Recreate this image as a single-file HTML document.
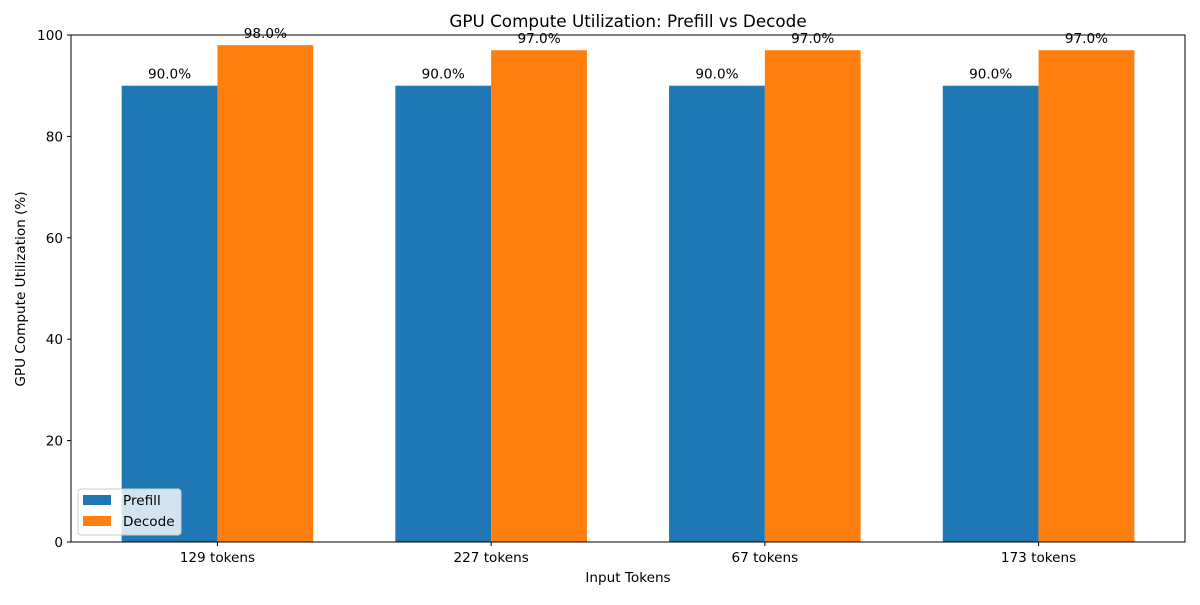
<!DOCTYPE html>
<html><head><meta charset="utf-8"><style>
body{margin:0;background:#fff;font-family:"Liberation Sans","DejaVu Sans",sans-serif;}
svg text{font-family:"DejaVu Sans","Liberation Sans",sans-serif;}
</style></head><body>
<svg id="chart" width="1200" height="600" xmlns="http://www.w3.org/2000/svg"></svg>
<script>
const categories = ["129 tokens","227 tokens","67 tokens","173 tokens"];
const prefillValues = [90,90,90,90];
const decodeValues = [98,97,97,97];
const yTicks = [0,20,40,60,80,100];

const svg = document.getElementById('chart');
const NS = "http://www.w3.org/2000/svg";
const L=71,R=1185,T=35,B=542;
const FS=13.6;
const bw=0.35, xmin=-0.535, xmax=categories.length-1+0.535;
const xs = v => L + (v - xmin)/(xmax - xmin)*(R-L);
const ys = v => B - v/100*(B-T);
function mk(tag, attrs, parent){const e=document.createElementNS(NS,tag);for(const k in attrs)e.setAttribute(k,attrs[k]);(parent||svg).appendChild(e);return e;}

const t=mk('text',{x:628,y:27,'text-anchor':'middle','font-size':16.8,fill:'#000'});
t.textContent='GPU Compute Utilization: Prefill vs Decode';



const series=[{vals:prefillValues,color:'#1f77b4',off:-bw/2,name:'prefill'},{vals:decodeValues,color:'#ff7f0e',off:bw/2,name:'decode'}];
series.forEach(s=>{
  s.vals.forEach((v,i)=>{
    const x0=xs(i+s.off-bw/2), x1=xs(i+s.off+bw/2);
    const r=mk('rect',{x:x0,y:ys(v),width:x1-x0,height:ys(0)-ys(v),fill:s.color});
    
    
    const lb=mk('text',{x:(x0+x1)/2,y:ys(v)-7,'text-anchor':'middle','font-size':FS,fill:'#000'});
    lb.textContent=v.toFixed(1)+'%';
    
    
  });
});

const frame=mk('rect',{x:L,y:T,width:R-L,height:B-T,fill:'none',stroke:'#000','stroke-width':1});



yTicks.forEach(v=>{
  mk('line',{x1:L-4,x2:L,y1:ys(v),y2:ys(v),stroke:'#000'});
  const tx=mk('text',{x:L-8,y:ys(v)+5,'text-anchor':'end','font-size':FS,fill:'#000'});
  tx.textContent=v;
  
  
});
categories.forEach((c,i)=>{
  mk('line',{x1:xs(i),x2:xs(i),y1:B,y2:B+4,stroke:'#000'});
  const tx=mk('text',{x:xs(i),y:B+20,'text-anchor':'middle','font-size':FS,fill:'#000'});
  tx.textContent=c;
  
  
});
const xt=mk('text',{x:628,y:582,'text-anchor':'middle','font-size':FS,fill:'#000'});
xt.textContent='Input Tokens';


const yt=mk('text',{x:25,y:289,'text-anchor':'middle','font-size':FS,fill:'#000',transform:'rotate(-90 25 289)'});
yt.textContent='GPU Compute Utilization (%)';



const lg=mk('g',{});


mk('rect',{x:78,y:489,width:103,height:46,rx:3,fill:'#fff','fill-opacity':0.8,stroke:'#ccc'},lg);
[['Prefill','#1f77b4',500],['Decode','#ff7f0e',521]].forEach(([n,c,y])=>{
  mk('rect',{x:83,y:y-5,width:28,height:10,fill:c},lg);
  const tx=mk('text',{x:123,y:y+5,'font-size':FS,fill:'#000'},lg);
  tx.textContent=n;
  
  
});
</script>
</body></html>
